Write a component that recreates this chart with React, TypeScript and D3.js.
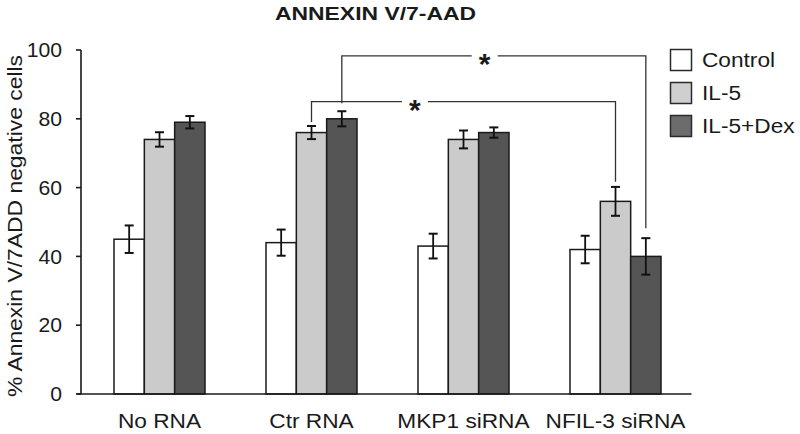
import React from "react";
import * as d3 from "d3";

const categories = ["No RNA", "Ctr RNA", "MKP1 siRNA", "NFIL-3 siRNA"];
const seriesNames = ["Control", "IL-5", "IL-5+Dex"];
const controlValues = [45, 44, 43, 42];
const il5Values = [74, 76, 74, 56];
const dexValues = [79, 80, 76, 40];
const controlErrors = [4, 3.8, 3.6, 4];
const il5Errors = [2.1, 1.9, 2.6, 4.2];
const dexErrors = [1.8, 2.2, 1.5, 5.3];
const yTicks = [0, 20, 40, 60, 80, 100];
const title = "ANNEXIN V/7-AAD";
const yLabel = "% Annexin V/7ADD negative cells";

// significance brackets: from (category, series) to (category, series), level in % units
const bracketFrom = [
  { cat: "Ctr RNA", series: "IL-5", end: 79.1 },
  { cat: "Ctr RNA", series: "IL-5+Dex", end: 84.5 },
];
const bracketTo = [
  { cat: "NFIL-3 siRNA", series: "IL-5", end: 61.7 },
  { cat: "NFIL-3 siRNA", series: "IL-5+Dex", end: 48.2 },
];
const bracketLevels = [85.0, 98.3];
const bracketStarPos = [0.34, 0.47];
const bracketLabels = ["*", "*"];

const W = 800;
const H = 434;
const FONT = "'Liberation Sans', Arial, Helvetica, sans-serif";

const seriesValues = [controlValues, il5Values, dexValues];
const seriesErrors = [controlErrors, il5Errors, dexErrors];
const barFills = ["#ffffff", "#cbcbcb", "#555555"];
const legendFills = ["#ffffff", "#cfcfcf", "#6c6c6c"];

export default function App() {
  const y = d3.scaleLinear().domain([0, 100]).range([394, 50]);
  const x0 = d3.scaleBand<string>().domain(categories).range([83.5, 691.5]).padding(0);
  const groupW = 91;
  const x1 = d3
    .scaleBand<string>()
    .domain(seriesNames)
    .range([(x0.bandwidth() - groupW) / 2, (x0.bandwidth() + groupW) / 2])
    .padding(0);
  const barCenter = (cat: string, s: string) =>
    (x0(cat) as number) + (x1(s) as number) + x1.bandwidth() / 2;

  const axisX = 81;
  const textColor = "#1a1a1a";

  return (
    <svg
      width={W}
      height={H}
      style={{ position: "absolute", left: 0, top: 0, background: "#fff" }}
      fontFamily={FONT}
    >
      <rect x={0} y={0} width={W} height={H} fill="#ffffff" />
      {/* title */}
      <text
        x={275}
        y={19.5}
        fontSize={18.5}
        fontWeight="bold"
        fill={textColor}
        textLength={201}
        lengthAdjust="spacingAndGlyphs"
      >
        {title}
      </text>

      {/* bars */}
      {categories.map((cat, ci) => (
        <g key={cat}>
          {seriesNames.map((s, si) => {
            const v = seriesValues[si][ci];
            const e = seriesErrors[si][ci];
            const bx = (x0(cat) as number) + (x1(s) as number);
            const cx = barCenter(cat, s);
            return (
              <g key={s}>
                <rect
                  x={bx}
                  y={y(v)}
                  width={x1.bandwidth()}
                  height={y(0) - y(v)}
                  fill={barFills[si]}
                  stroke="#1a1a1a"
                  strokeWidth={1.5}
                />
                <line x1={cx} x2={cx} y1={y(v + e)} y2={y(v - e)} stroke="#111" strokeWidth={1.8} />
                <line x1={cx - 4.5} x2={cx + 4.5} y1={y(v + e)} y2={y(v + e)} stroke="#111" strokeWidth={2} />
                <line x1={cx - 4.5} x2={cx + 4.5} y1={y(v - e)} y2={y(v - e)} stroke="#111" strokeWidth={2} />
              </g>
            );
          })}
        </g>
      ))}

      {/* axes */}
      <line x1={axisX} x2={axisX} y1={y(100)} y2={y(0)} stroke="#1a1a1a" strokeWidth={1.6} />
      <line x1={77} x2={691.5} y1={y(0)} y2={y(0)} stroke="#1a1a1a" strokeWidth={1.6} />
      {yTicks.map((t) => (
        <g key={t}>
          <line x1={axisX - 5} x2={axisX} y1={y(t)} y2={y(t)} stroke="#1a1a1a" strokeWidth={1.6} />
          <text
            x={62}
            y={y(t)}
            dy="0.36em"
            textAnchor="end"
            fontSize={20}
            fill={textColor}
            transform={`translate(62 ${y(t)}) scale(1.06 1) translate(-62 ${-y(t)})`}
          >
            {t}
          </text>
        </g>
      ))}
      {categories.map((cat) => {
        const cx = (x0(cat) as number) + x0.bandwidth() / 2;
        return (
          <text
            key={cat}
            x={cx}
            y={428.5}
            textAnchor="middle"
            fontSize={21}
            fill={textColor}
            transform={`translate(${cx} 0) scale(1.08 1) translate(${-cx} 0)`}
          >
            {cat}
          </text>
        );
      })}
      <text
        transform={`translate(21.5 226) rotate(-90)`}
        textAnchor="middle"
        fontSize={20}
        fill={textColor}
        textLength={342}
        lengthAdjust="spacingAndGlyphs"
      >
        {yLabel}
      </text>

      {/* significance brackets */}
      {bracketLevels.map((lvl, i) => {
        const xa = barCenter(bracketFrom[i].cat, bracketFrom[i].series);
        const xb = barCenter(bracketTo[i].cat, bracketTo[i].series);
        const ly = y(lvl);
        const sx = xa + (xb - xa) * bracketStarPos[i];
        const gap = 13;
        const fs = 30;
        return (
          <g key={i} stroke="#333" strokeWidth={1.3} fill="none">
            <path d={`M${xa},${y(bracketFrom[i].end)}V${ly}H${sx - gap}`} />
            <path d={`M${sx + gap},${ly}H${xb}V${y(bracketTo[i].end)}`} />
            <text
              x={sx}
              y={ly + fs * 0.6}
              textAnchor="middle"
              fontSize={fs}
              fontWeight="bold"
              fill="#1a1a1a"
              stroke="none"
            >
              {bracketLabels[i]}
            </text>
          </g>
        );
      })}

      {/* legend */}
      {seriesNames.map((s, i) => {
        const ly = 49.5 + i * 33;
        return (
          <g key={s}>
            <rect x={670.5} y={ly} width={21} height={21} fill={legendFills[i]} stroke="#2a2a2a" strokeWidth={1.5} />
            <text
              x={702}
              y={ly + 17.5}
              fontSize={21}
              fill={textColor}
              transform={`translate(702 0) scale(1.08 1) translate(-702 0)`}
            >
              {s}
            </text>
          </g>
        );
      })}
    </svg>
  );
}
